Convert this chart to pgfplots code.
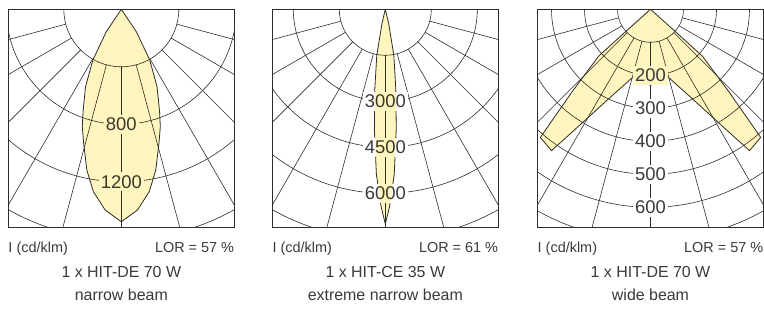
\documentclass[border=0pt]{standalone}
\usepackage{pgfplots}
\usepackage{pgfplotstable}
\pgfplotsset{compat=1.18}
\usepackage{fontspec}
\setmainfont{Liberation Sans}
\definecolor{gridc}{HTML}{2E2E2E}
\definecolor{beam}{HTML}{FFF5BE}
\definecolor{txt}{HTML}{3A3A3A}

\pgfplotstableread{
angle r
-53 0
-56.2 188
-60.7 404
-65.2 593
-69.5 760
-71.6 860
-74.3 968
-77.9 1144
-81.3 1284
-85.4 1401
-90 1478
-94.6 1401
-98.7 1284
-102.1 1144
-105.7 968
-108.4 860
-110.5 760
-114.8 593
-119.3 404
-123.8 188
-127 0
}\beamA

\pgfplotstableread{
angle r
-74 0
-76.7 470
-79.5 1525
-82.5 2630
-84.8 3930
-86.9 5390
-88.75 6425
-90 7000
-91.25 6425
-93.1 5390
-95.2 3930
-97.5 2630
-100.5 1525
-103.3 470
-106 0
}\beamB

\pgfplotstableread{
angle r
-41.7 0
-41.9 102
-42.1 212
-46.4 343
-49.3 512
-55 523
-57.4 443
-60.7 365
-65.9 288
-74.8 216
-82 211
-87 215
-90 232
-93 215
-98 211
-105.2 216
-114.1 288
-119.3 365
-122.6 443
-125 523
-130.7 512
-133.6 343
-137.9 212
-138.1 102
-138.3 0
}\beamC

\pgfplotsset{
  ldc/.style={scale only axis, width=226bp, height=218.4bp, xtick=\empty, ytick=\empty,
    axis line style={gridc, line width=0.9bp}, clip=true, anchor=south west, ymax=0},
}
\tikzset{
  gl/.style={gridc, line width=0.6bp},
  bo/.style={gridc, line width=0.8bp, line join=round},
  lab/.style={fill=white, inner xsep=2bp, inner ysep=3bp, text=txt, font=\fontsize{18.5}{19}\selectfont},
  sm/.style={inner sep=0pt, text=txt, font=\fontsize{14.5}{15}\selectfont},
  bg/.style={inner sep=0pt, text=txt, font=\fontsize{16}{17}\selectfont},
}

\begin{document}
\begin{tikzpicture}
\useasboundingbox[fill=white] (0bp,0bp) rectangle (764bp,311bp);

% ---------- panel 1 ----------
\begin{axis}[ldc, at={(8.3bp,83.3bp)}, xmin=-786.1, xmax=786.1, ymin=-1519.3]
\draw[gl] (axis cs:0,0) circle[radius=400];
\draw[gl] (axis cs:0,0) circle[radius=800];
\draw[gl] (axis cs:0,0) circle[radius=1200];
\draw[gl] (axis cs:0,0) circle[radius=1600];
\pgfplotsinvokeforeach{-165,-150,-135,-120,-105,-90,-75,-60,-45,-30,-15}{
  \addplot[gl, data cs=polar] coordinates {(#1,400) (#1,6000)};
}
\addplot[bo, data cs=polar] table[x=angle, y=r] {\beamA};
\node[lab] at (axis cs:0,-800) {800};
\node[lab] at (axis cs:0,-1200) {1200};
\addplot[fill=beam, draw=none, blend mode=multiply, data cs=polar] table[x=angle, y=r] {\beamA};
\end{axis}

% ---------- panel 2 ----------
\begin{axis}[ldc, at={(272.3bp,83.3bp)}, xmin=-3684.8, xmax=3684.8, ymin=-7121.7]
\draw[gl] (axis cs:0,0) circle[radius=1500];
\draw[gl] (axis cs:0,0) circle[radius=3000];
\draw[gl] (axis cs:0,0) circle[radius=4500];
\draw[gl] (axis cs:0,0) circle[radius=6000];
\draw[gl] (axis cs:0,0) circle[radius=7500];
\pgfplotsinvokeforeach{-165,-150,-135,-120,-105,-90,-75,-60,-45,-30,-15}{
  \addplot[gl, data cs=polar] coordinates {(#1,1500) (#1,20000)};
}
\addplot[bo, data cs=polar] table[x=angle, y=r] {\beamB};
\node[lab] at (axis cs:0,-3000) {3000};
\node[lab] at (axis cs:0,-4500) {4500};
\node[lab] at (axis cs:0,-6000) {6000};
\addplot[fill=beam, draw=none, blend mode=multiply, data cs=polar] table[x=angle, y=r] {\beamB};
\end{axis}

% ---------- panel 3 ----------
\begin{axis}[ldc, at={(537.5bp,83.3bp)}, xmin=-342.4, xmax=342.4, ymin=-661.8]
\draw[gl] (axis cs:0,0) circle[radius=100];
\draw[gl] (axis cs:0,0) circle[radius=200];
\draw[gl] (axis cs:0,0) circle[radius=300];
\draw[gl] (axis cs:0,0) circle[radius=400];
\draw[gl] (axis cs:0,0) circle[radius=500];
\draw[gl] (axis cs:0,0) circle[radius=600];
\draw[gl] (axis cs:0,0) circle[radius=700];
\pgfplotsinvokeforeach{-165,-150,-135,-120,-105,-90,-75,-60,-45,-30,-15}{
  \addplot[gl, data cs=polar] coordinates {(#1,100) (#1,2000)};
}
\addplot[bo, data cs=polar] table[x=angle, y=r] {\beamC};
\node[lab] at (axis cs:0,-300) {300};
\node[lab] at (axis cs:0,-400) {400};
\node[lab] at (axis cs:0,-500) {500};
\node[lab] at (axis cs:0,-600) {600};
\addplot[fill=beam, draw=none, blend mode=multiply, data cs=polar] table[x=angle, y=r] {\beamC};
\node[lab, fill=beam] at (axis cs:0,-200) {200};
\end{axis}

% ---------- texts ----------
\node[sm, anchor=base west] at (8.3bp,58bp) {I (cd/klm)};
\node[sm, anchor=base east] at (234.3bp,58bp) {LOR = 57 \%};
\node[bg, anchor=base] at (121.3bp,34bp) {1 x HIT-DE 70 W};
\node[bg, anchor=base] at (121.3bp,11bp) {narrow beam};

\node[sm, anchor=base west] at (272.3bp,58bp) {I (cd/klm)};
\node[sm, anchor=base east] at (498.3bp,58bp) {LOR = 61 \%};
\node[bg, anchor=base] at (385.3bp,34bp) {1 x HIT-CE 35 W};
\node[bg, anchor=base] at (385.3bp,11bp) {extreme narrow beam};

\node[sm, anchor=base west] at (537.5bp,58bp) {I (cd/klm)};
\node[sm, anchor=base east] at (763.5bp,58bp) {LOR = 57 \%};
\node[bg, anchor=base] at (650.5bp,34bp) {1 x HIT-DE 70 W};
\node[bg, anchor=base] at (650.5bp,11bp) {wide beam};
\end{tikzpicture}
\end{document}
